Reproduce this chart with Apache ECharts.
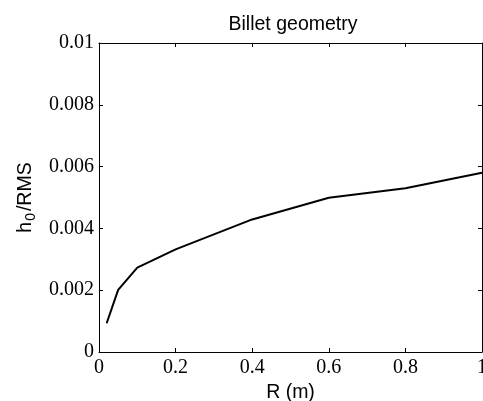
<!DOCTYPE html>
<html>
<head>
<meta charset="utf-8">
<script src="https://cdn.jsdelivr.net/npm/echarts@6/dist/echarts.min.js"></script>
<style>
  html, body { margin: 0; padding: 0; background: #fff; }
  #chart { width: 483px; height: 401px; }
</style>
</head>
<body>
<div id="chart"></div>
<script>
  // billet radius R (m) and the h0/RMS ratio
  const radius = [0.02, 0.05, 0.1, 0.2, 0.4, 0.6, 0.8, 1.0]
  const h0Rms = [0.00093, 0.00201, 0.00273, 0.00332, 0.00429, 0.00499, 0.0053, 0.0058]
  const xTicks = [0, 0.2, 0.4, 0.6, 0.8, 1]
  const yTicks = [0, 0.002, 0.004, 0.006, 0.008, 0.01]

  const serif = 'Liberation Serif'
  const sans = 'Liberation Sans'

  let chart = echarts.init(document.getElementById('chart'))

  let boxAxis = {
    axisLine: { show: true, onZero: false, lineStyle: { color: '#000', width: 1 } },
    axisTick: { show: true, inside: true, length: 4, lineStyle: { color: '#000' } },
    splitLine: { show: false }
  }

  let option = {
    animation: false,
    backgroundColor: '#fff',
    title: {
      text: 'Billet geometry',
      left: 288,
      textAlign: 'center',
      top: 10,
      textStyle: { fontFamily: sans, fontSize: 19.5, fontWeight: 'normal', color: '#000' }
    },
    grid: { left: 99, right: 1, top: 43, bottom: 49, outerBoundsMode: 'none' },
    xAxis: [
      Object.assign({}, boxAxis, {
        type: 'value', min: 0, max: 1, interval: 0.2,
        name: 'R (m)', nameLocation: 'middle', nameGap: 27,
        nameTextStyle: { fontFamily: sans, fontSize: 19.5, color: '#000' },
        axisLabel: {
          margin: 6, fontFamily: serif, fontSize: 20, color: '#000',
          formatter: v => xTicks.includes(+v.toFixed(2)) ? String(+v.toFixed(2)) : ''
        }
      }),
      Object.assign({}, boxAxis, {
        type: 'value', position: 'top', min: 0, max: 1, interval: 0.2,
        axisLabel: { show: false }
      })
    ],
    yAxis: [
      Object.assign({}, boxAxis, {
        type: 'value', min: 0, max: 0.01, interval: 0.002,
        name: '{n|h}{s|0}{n|/RMS}', nameLocation: 'middle', nameGap: 60,
        nameTextStyle: {
          color: '#000',
          rich: {
            n: { fontFamily: sans, fontSize: 19.5, color: '#000' },
            s: { fontFamily: sans, fontSize: 14, color: '#000', verticalAlign: 'bottom', padding: [10, 2, 0, 1] }
          }
        },
        axisLabel: {
          margin: 5, fontFamily: serif, fontSize: 20, color: '#000',
          formatter: v => yTicks.includes(+v.toFixed(4)) ? String(+v.toFixed(4)) : ''
        }
      }),
      Object.assign({}, boxAxis, {
        type: 'value', position: 'right', min: 0, max: 0.01, interval: 0.002,
        axisLabel: { show: false }
      })
    ],
    series: [
      {
        type: 'line',
        data: radius.map((r, i) => [r, h0Rms[i]]),
        showSymbol: false,
        lineStyle: { color: '#000', width: 2 },
        clip: false
      }
    ]
  }

  chart.setOption(option)
</script>
</body>
</html>
